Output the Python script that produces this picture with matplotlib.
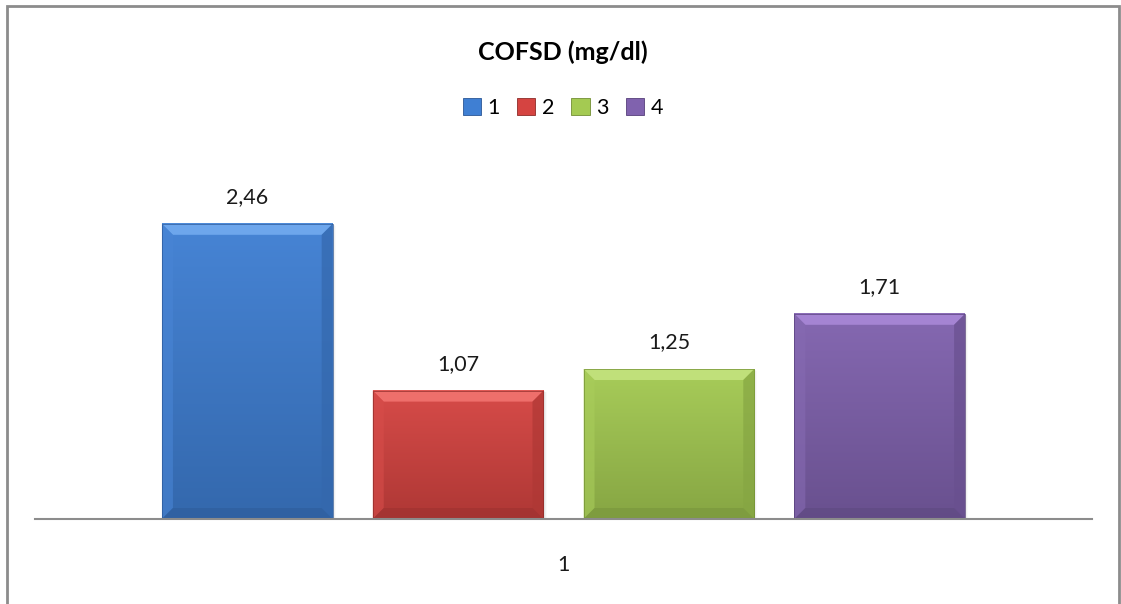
import numpy as np
import matplotlib
matplotlib.use("Agg")
import matplotlib.pyplot as plt
from matplotlib.patches import Rectangle, Polygon, Patch
from matplotlib.colors import to_rgb

plt.rcParams['font.family'] = ['Lato', 'DejaVu Sans']

title = "COFSD (mg/dl)"
series = ["1", "2", "3", "4"]
values = [2.46, 1.07, 1.25, 1.71]
labels = ["2,46", "1,07", "1,25", "1,71"]
category = "1"

# base, light (top bevel), dark (edge) per series
base_cols = ["#3F7FD3", "#D54441", "#A4CA52", "#8062AE"]
light_cols = ["#6DA6EC", "#EE6F6B", "#C0E07A", "#A584D3"]
dark_cols = ["#2B5796", "#8E2B28", "#728F33", "#563F7A"]


def mix(c, t, k):
    a = np.array(to_rgb(c))
    b = np.array(to_rgb(t))
    return tuple(a + (b - a) * k)


def bevel_bar(ax, x, w, h, base, light, dark, bx, by):
    x0, x1 = x - w / 2, x + w / 2
    # soft shadow to the right
    for i, a in enumerate([0.06, 0.04, 0.02]):
        off = (i + 1) * 0.005
        ax.add_patch(Rectangle((x0 + off, 0), w, h - off, facecolor="black",
                               alpha=a, lw=0, zorder=1))
    # body with a vertical gradient
    grad = np.linspace(0, 1, 128)[:, None]
    top_c = np.array(mix(base, "white", 0.04))
    bot_c = np.array(mix(base, "black", 0.18))
    img = top_c[None, None, :] * (1 - grad[..., None]) + bot_c[None, None, :] * grad[..., None]
    img = np.repeat(img, 2, axis=1)
    ax.imshow(img, extent=(x0, x1, 0, h), origin="upper", aspect="auto", zorder=2,
              interpolation="bilinear")
    # bevel faces
    top = Polygon([(x0, h), (x1, h), (x1 - bx, h - by), (x0 + bx, h - by)],
                  facecolor=light, lw=0, zorder=3)
    left = Polygon([(x0, 0), (x0, h), (x0 + bx, h - by), (x0 + bx, by)],
                   facecolor=mix(base, "white", 0.05), lw=0, alpha=0.6, zorder=3)
    right = Polygon([(x1, 0), (x1, h), (x1 - bx, h - by), (x1 - bx, by)],
                    facecolor=mix(base, "black", 0.18), lw=0, alpha=0.7, zorder=3)
    bottom = Polygon([(x0, 0), (x1, 0), (x1 - bx, by), (x0 + bx, by)],
                     facecolor=mix(base, "black", 0.25), lw=0, alpha=0.7, zorder=3)
    for p in (top, left, right, bottom):
        ax.add_patch(p)
    ax.add_patch(Rectangle((x0, 0), w, h, fill=False, edgecolor=dark, lw=0.6,
                           alpha=0.8, zorder=4))


fig = plt.figure(figsize=(11.21, 6.04), dpi=100)
ax = fig.add_axes([35 / 1121, 85 / 604, 1057 / 1121, 360 / 604])

xs = np.arange(len(values))
width = 0.81
bx, by = 11 / 210.8, 11 / 120

for x, v, lab, b, l, d in zip(xs, values, labels, base_cols, light_cols, dark_cols):
    bevel_bar(ax, x, width, v, b, l, d, bx, by)
    ax.text(x, v + 0.14, lab, ha="center", va="bottom", fontsize=15.5, color="#1a1a1a")

ax.set_xlim(-1.007, 4.007)
ax.set_ylim(0, 3)
ax.set_yticks([])
ax.set_xticks([1.5])
ax.set_xticklabels([category], fontsize=15.5, color="#1a1a1a")
ax.tick_params(axis="x", length=0, pad=26)
for s in ["top", "left", "right"]:
    ax.spines[s].set_visible(False)
ax.spines["bottom"].set_color("#8c8c8c")
ax.spines["bottom"].set_linewidth(1.5)
ax.spines["bottom"].set_zorder(5)

fig.text(563 / 1121, 1 - 52 / 604, title, ha="center", va="center",
         fontsize=18, fontweight="bold")

handles = [Patch(facecolor=b, edgecolor=d, lw=0.6) for b, d in zip(base_cols, dark_cols)]
fig.legend(handles, series, loc="center", bbox_to_anchor=(563 / 1121, 1 - 108 / 604),
           ncol=4, frameon=False, fontsize=15.5, handlelength=0.85, handleheight=0.85,
           handletextpad=0.3, columnspacing=0.8)

# chart frame
fig.add_artist(Rectangle((7 / 1121, -0.05), 1112 / 1121, 1.05 - 6 / 604,
                         transform=fig.transFigure, fill=False,
                         edgecolor="#8c8c8c", lw=2))

fig.savefig("out.png", dpi=100)
